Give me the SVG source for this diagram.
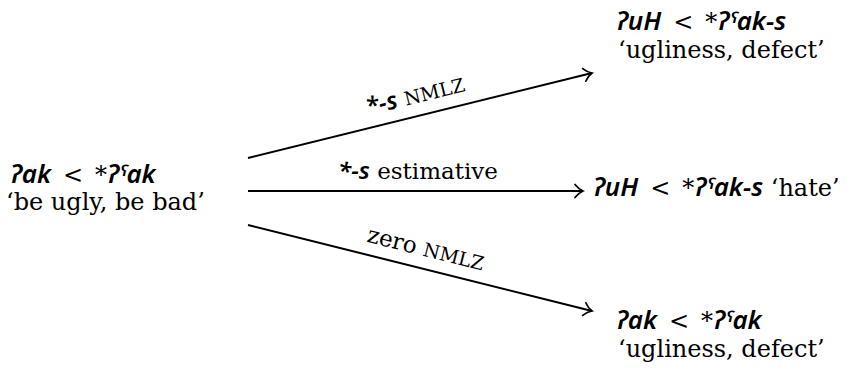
<svg xmlns="http://www.w3.org/2000/svg" width="851" height="376" viewBox="0 0 851 376">
<style>
text { font-family: "DejaVu Serif", "Liberation Serif", serif; font-size: 24px; fill: #000; }
.f { font-family: "Noto Sans", "DejaVu Sans", sans-serif; font-weight: 600; font-style: italic; font-size: 26px; }
.sc { font-size: 19px; }
.lbl { font-size: 23px; }
.lbl .f { font-size: 24px; }
.arr { stroke: #000; stroke-width: 2; fill: none; marker-end: url(#head); }
</style>
<defs>
<marker id="head" markerWidth="16" markerHeight="16" refX="11" refY="8" orient="auto" markerUnits="userSpaceOnUse">
<path d="M3,1.5 Q6.5,6 11,8 Q6.5,10 3,14.5" fill="none" stroke="#000" stroke-width="1.7" stroke-linecap="round"/>
</marker>
</defs>
<rect width="851" height="376" fill="#fff"/>
<g id="connectors">
<line class="arr" x1="248" y1="158" x2="592" y2="73"/>
<line class="arr" x1="248" y1="191" x2="583" y2="191"/>
<line class="arr" x1="248" y1="225" x2="592" y2="311"/>
<text class="lbl" transform="translate(417,103) rotate(-13.9)" text-anchor="middle"><tspan class="f">*-s</tspan> <tspan class="sc">NMLZ</tspan></text>
<text class="lbl" x="418" y="179" text-anchor="middle"><tspan class="f">*-s</tspan> estimative</text>
<text class="lbl" transform="translate(424,256) rotate(14)" text-anchor="middle">zero <tspan class="sc">NMLZ</tspan></text>
</g>
<g id="source">
<text x="10" y="183"><tspan class="f">ʔak</tspan><tspan dx="12">&lt;</tspan><tspan dx="12">*</tspan><tspan class="f">ʔˤak</tspan></text>
<text x="6" y="210">‘be ugly, be bad’</text>
</g>
<g id="target-nmlz">
<text x="616" y="30"><tspan class="f">ʔuH</tspan><tspan dx="12">&lt;</tspan><tspan dx="12">*</tspan><tspan class="f">ʔˤak-s</tspan></text>
<text x="618" y="58">‘ugliness, defect’</text>
</g>
<g id="target-estimative">
<text x="593" y="196"><tspan class="f">ʔuH</tspan><tspan dx="12">&lt;</tspan><tspan dx="12">*</tspan><tspan class="f">ʔˤak-s</tspan> ‘hate’</text>
</g>
<g id="target-zero">
<text x="616" y="329"><tspan class="f">ʔak</tspan><tspan dx="12">&lt;</tspan><tspan dx="12">*</tspan><tspan class="f">ʔˤak</tspan></text>
<text x="618" y="357">‘ugliness, defect’</text>
</g>
</svg>
